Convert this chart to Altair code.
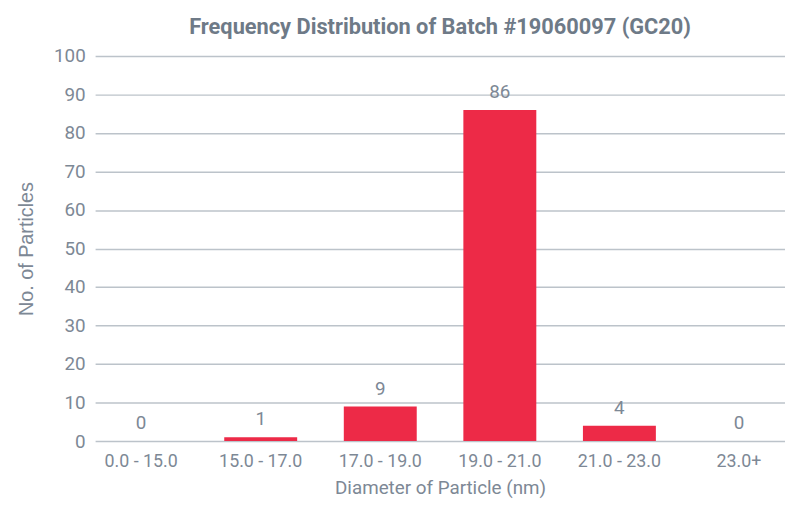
import altair as alt
import pandas as pd

categories = ["0.0 - 15.0", "15.0 - 17.0", "17.0 - 19.0", "19.0 - 21.0", "21.0 - 23.0", "23.0+"]
counts = [0, 1, 9, 86, 4, 0]
y_ticks = [0, 10, 20, 30, 40, 50, 60, 70, 80, 90, 100]

df = pd.DataFrame({"range": categories, "count": counts})

label_color = "#7d8895"
font = "Roboto"

x_enc = alt.X(
    "range:N",
    sort=categories,
    title="Diameter of Particle (nm)",
    scale=alt.Scale(paddingInner=0.39, paddingOuter=0.08),
    axis=alt.Axis(
        labelAngle=0, domain=False, ticks=False, labelPadding=12,
        labelFontSize=18, labelColor=label_color, labelFont=font,
        titleFontSize=19, titleColor=label_color, titleFont=font,
        titleFontWeight="normal", titlePadding=8,
    ),
)

y_enc = alt.Y(
    "count:Q",
    title="No. of Particles",
    scale=alt.Scale(domain=[0, 100], nice=False),
    axis=alt.Axis(
        values=y_ticks, domain=False, ticks=False, labelOverlap=False,
        labelPadding=10, labelFontSize=19, labelColor=label_color, labelFont=font,
        gridColor="#bcc3ca", gridWidth=1.5,
        titleFontSize=20, titleColor=label_color, titleFont="Liberation Sans",
        titleFontWeight="normal", titlePadding=17,
    ),
)

bars = alt.Chart(df).mark_bar(color="#ED2A47").encode(x=x_enc, y=y_enc)

labels = alt.Chart(df).mark_text(
    baseline="bottom", dy=-8, fontSize=19, color=label_color, font=font
).encode(x=x_enc, y=y_enc, text="count:Q")

chart = (
    alt.layer(bars, labels)
    .properties(
        width=697,
        height=389,
        autosize=alt.AutoSizeParams(type="none"),
        padding={"left": 88, "top": 46, "right": 0, "bottom": 56},
        title=alt.TitleParams(
            "Frequency Distribution of Batch #19060097 (GC20)",
            fontSize=22, fontWeight="bold", color="#6e7a87", font=font,
            anchor="middle", offset=8,
        ),
    )
    .configure_view(stroke=None)
)

chart.save("out.html", embed_options={"renderer": "svg", "actions": False})
